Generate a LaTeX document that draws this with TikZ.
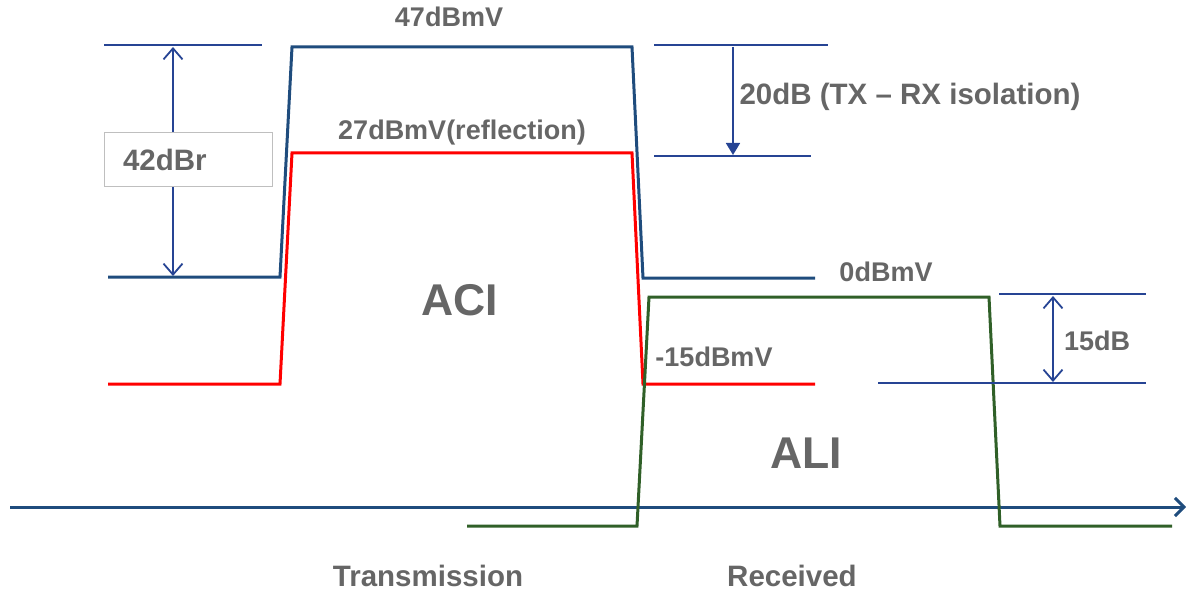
\documentclass[tikz,border=0pt]{standalone}
\usepackage{fontspec}
\setmainfont{Liberation Sans}
\usetikzlibrary{arrows.meta}
\definecolor{trblue}{RGB}{31,76,125}
\definecolor{dimblue}{RGB}{38,68,148}
\definecolor{trgreen}{RGB}{48,96,40}
\definecolor{txtgray}{RGB}{102,102,102}

\begin{document}
\begin{tikzpicture}[x=1pt,y=-1pt,
    trace/.style={line width=3pt,line join=miter},
    dimline/.style={dimblue,line width=1.8pt},
    lbl/.style={text=txtgray,font=\bfseries\fontsize{27}{30}\selectfont,anchor=base,inner sep=0pt},
    lblbig/.style={lbl,font=\bfseries\fontsize{29.5}{33}\selectfont},
    lblhuge/.style={lbl,font=\bfseries\fontsize{44.5}{50}\selectfont}]
    \useasboundingbox (0,0) rectangle (1186,591);
    % axis
    \coordinate (ax0) at (10,507);
    \coordinate (ax1) at (1186,507);
    \draw[trace,trblue,-{Straight Barb[length=9pt,width=18pt]}](ax0)to(ax1);
    % TX and reflection
    \draw[trace,trblue](108,277)--(280,277)--(292,47)--(632,47)--(643,278)--(815,278); %TX
    \draw[trace,red](108,384)--(280,384)--(292,153)--(632,153)--(643,384)--(815,384); %reflection
    \draw[trace,trgreen](467,526)--(637,526)--(649,297)--(989,297)--(1000,526)--(1172,526); %RX
    % 42dBr
    \coordinate (a42t) at (173,47);
    \coordinate (a42b) at (173,276);
    \draw[dimline](104,45)--(262,45);
    \draw[dimline,{Straight Barb[length=11pt,width=19pt]}-{Straight Barb[length=11pt,width=19pt]}](a42t)to(a42b);
    \node[draw=black!25,fill=white,line width=1pt,minimum width=168pt,minimum height=53pt,
          text width=130pt,inner xsep=19pt,align=left,text=txtgray,
          font=\bfseries\fontsize{29.5}{33}\selectfont] (box42) at (188,159.5) {42dBr};
    % 20dB
    \coordinate (a20t) at (733,47);
    \coordinate (a20b) at (733,155);
    \draw[dimline](654,45)--(828,45);
    \draw[dimline](654,156)--(811,156);
    \draw[dimline,-{Triangle[length=12pt,width=14pt]}](a20t)to(a20b);
    % 15dB
    \coordinate (a15t) at (1053,296);
    \coordinate (a15b) at (1053,382);
    \draw[dimline](999,294)--(1146,294);
    \draw[dimline](878,383)--(1146,383);
    \draw[dimline,{Straight Barb[length=11pt,width=19pt]}-{Straight Barb[length=11pt,width=19pt]}](a15t)to(a15b);
    % labels
    \node[lbl] (l47) at (449,27) {47dBmV};
    \node[lbl] (l27) at (462,140) {27dBmV(reflection)};
    \node[lbl] (l0) at (886,281) {0dBmV};
    \node[lbl] (lm15) at (714,366) {-15dBmV};
    \node[lbl] (l15) at (1097,350) {15dB};
    \node[lblbig] (l20) at (910,105) {20dB (TX – RX isolation)};
    \node[lblhuge] (aci) at (460,315) {ACI};
    \node[lblhuge] (ali) at (806,468) {ALI};
    \node[lblbig] (tx) at (428,586) {Transmission};
    \node[lblbig] (rx) at (792,586) {Received};
\end{tikzpicture}
\end{document}
